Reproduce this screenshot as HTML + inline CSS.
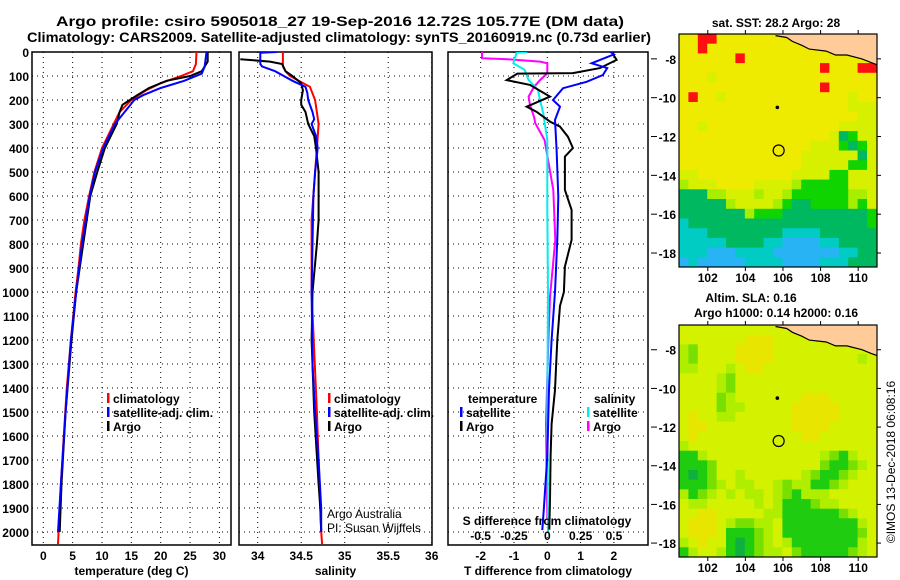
<!DOCTYPE html>
<html><head><meta charset="utf-8"><style>
body{margin:0;background:#fff}
svg{display:block;font-family:"Liberation Sans",sans-serif}
.b{font-weight:bold;font-size:12px}
.r{font-weight:normal;font-size:12px}
.t{font-weight:bold;font-size:14px}
</style></head><body>
<svg id="s" width="900" height="580" viewBox="0 0 900 580" xmlns="http://www.w3.org/2000/svg">
<text class="t" x="340" y="26" text-anchor="middle" textLength="568" lengthAdjust="spacingAndGlyphs">Argo profile: csiro 5905018_27 19-Sep-2016 12.72S 105.77E (DM data)</text>
<text class="t" x="339" y="42" text-anchor="middle" textLength="624" lengthAdjust="spacingAndGlyphs">Climatology: CARS2009. Satellite-adjusted climatology: synTS_20160919.nc (0.73d earlier)</text>
<g id="g"></g>
</svg>
<script>
// ---------- data ----------
const depthTicks=[0,100,200,300,400,500,600,700,800,900,1000,1100,1200,1300,1400,1500,1600,1700,1800,1900,2000];
const tempTicks=[0,5,10,15,20,25,30];
const salTicks=[34,34.5,35,35.5,36];
const salTickLabels=["34","34.5","35","35.5","36"];
const tdTicks=[-2,-1,0,1,2];
const sdTicks=[-0.5,-0.25,0,0.25,0.5];
const sdTickLabels=["-0.5","-0.25","0","0.25","0.5"];
// temperature profiles [depth, value]
const tempClim=[[0,26.1],[50,26],[80,25.5],[100,23.5],[130,20],[160,17.5],[200,15],[250,13],[300,12],[350,11],[400,10],[500,8.7],[600,7.8],[700,7],[800,6.4],[900,6],[1000,5.5],[1200,4.7],[1400,4],[1600,3.5],[1800,3],[2000,2.6],[2050,2.5]];
const tempArgo=[[0,28],[40,28],[80,27],[100,25],[120,21],[150,18],[180,16],[220,13.5],[250,13],[300,12.5],[400,10.5],[500,9.2],[600,8],[800,6.8],[1000,5.6],[1200,4.8],[1500,3.8],[1800,3.1],[2000,2.8]];
const tempSat=[[0,27.8],[60,27.5],[90,27],[120,24],[150,20],[180,17],[200,15.5],[300,12.2],[400,10.2],[500,8.8],[600,7.9],[800,6.6],[1000,5.6],[1200,4.7],[1500,3.8],[1800,3],[2000,2.5]];
// salinity profiles
const salClim=[[0,34.29],[60,34.29],[80,34.32],[100,34.37],[145,34.6],[200,34.66],[300,34.7],[400,34.68],[500,34.66],[700,34.62],[1000,34.62],[1500,34.68],[2000,34.73],[2050,34.74]];
const salArgo=[[30,33.8],[40,34.14],[50,34.28],[80,34.32],[100,34.4],[130,34.5],[160,34.52],[200,34.5],[220,34.5],[250,34.55],[300,34.58],[350,34.65],[400,34.67],[500,34.7],[600,34.7],[700,34.7],[800,34.68],[1000,34.63],[1200,34.62],[1500,34.65],[1800,34.7],[1900,34.72],[2000,34.73]];
const salSat=[[0,34.22],[3,34.03],[50,34.03],[60,34.05],[80,34.2],[100,34.3],[120,34.4],[145,34.55],[170,34.57],[200,34.58],[250,34.63],[280,34.65],[300,34.62],[350,34.67],[400,34.69],[500,34.66],[600,34.64],[1000,34.62],[1300,34.63],[1500,34.66],[1700,34.7],[1900,34.73],[2000,34.73]];
// differences from climatology
const tdSat=[[0,1.9],[10,2],[47,1.33],[67,1.8],[96,1.67],[124,1.18],[151,0.47],[200,0.17],[228,0.38],[283,0.23],[408,0.28],[603,0.33],[783,0.3],[1000,0.23],[1200,0.13],[1408,0.05],[1683,0],[1894,-0.1],[1992,-0.15]];
const tdArgo=[[0,1.93],[33,2.08],[67,1.58],[88,0.77],[90,-0.9],[117,-1.22],[137,-0.52],[186,0.08],[228,-0.62],[249,-0.32],[290,0.08],[311,0.38],[353,0.62],[400,0.77],[436,0.53],[575,0.53],[658,0.73],[783,0.73],[894,0.53],[1000,0.5],[1058,0.38],[1200,0.3],[1408,0.23],[1550,0.13],[1683,0.1],[1865,0.08],[1990,0.06]];
const sdArgo=[[0,-0.49],[26,-0.49],[30,-0.3],[40,-0.055],[47,0],[89,0],[117,-0.055],[146,-0.1],[186,-0.14],[221,-0.13],[270,-0.1],[297,-0.09],[367,-0.02],[575,0.045],[783,0.06],[1020,0.02],[1250,0.005],[1550,-0.01],[1950,0]];
const sdSat=[[0,-0.15],[3,-0.23],[47,-0.255],[74,-0.17],[117,-0.14],[158,-0.07],[200,-0.055],[256,-0.03],[367,0],[644,0],[1000,0.005],[1500,0],[2000,0.005]];
// maps: rows from north (-6.7) to south, 0.5 deg cells, lon 100.5..111
const sstRows=["YYRRYYYYYYYYYYYYYYYYY","YYRYYYYYYYYYYYYYYYYYY","YYYYYYRYYYYYYYYYYYYYY","YYYYYYYYYYYYYYYRYYYRR","YYYyYYYYYYYYYYYYYYYYY","YYYYYYYYYYYYYYYRYYYYY","YRYYyYYYYYYYYYYYYYyYY","YYYYYYYYYYYYYYYYYYyyy","YYYYYYYYYYYYYYYYYYYyy","YYyYYYYYYYYYYYYYYyyyy","YYYYYYYYYYYYYYYYyGgyy","YYYYYYYYYYYYYYyyygGgy","YYYYYYYYYYYYYyyyyyyGy","YYYYYYYYYYYYYyyyyyggy","yyYYYYYYYYYYyyyyggyyy","lyyyYYYYyyyylgggggyyy","GGGllyyylyylgggggglly","GGGGGlyyyylgGGgggglgy","GGGGGGGlgggGGGGGGGGGg","cGGGGGGGGGGGGGGGGGGGg","cccGGGGGGGGccccGGGGGG","cccccGGGGccbbbbccGGGG","cccbbbccccbbbbbbbccGG","bcbbbbbccccbbbbcccGGG"];
const slaRows=["yyyyyyyyyyyyyyyyyyyyy","yyyyyyyYYYyyyyyyyyyyy","lgyyyyYYYYyyyyyyyyyyy","lgyyyyYYYYyyyyyyyyyly","llyyylyYYyyyyyyyyyyyy","yyyylgyyyyyyyyyyyyyyy","yyyylgyyyyyyyyyyyyyyy","yyyyglyyyyyyyYYYyyyyy","yyyygllyyyyyYYYYYyyyy","yYyyllyyyyyyYYYYYyyyy","yYYyyyyyyyyyYYYYyyyyy","yYyyyyyyyyyyyYYyyyyyy","lyyyyyyyyyyyyyyyyyyyy","GGlyyyyyyyyyyyylgGlyy","GGGgyyyyyyyyyyygGGgly","GDGgyylyyyyyylgGGglyy","GGGglyllyylgllGGglyyy","lGglylyllylgGlllyyyyy","yllyyyyylylGGGgllyyyy","yyYYyyyyyllGGGGGGglyy","yYYYylggllyGGGGGGGGly","yYYYyGGGglyGGGGGGGGgy","lyYyyGDGglylGGGGGGGly","GlyylGDGgllygGGGGGgly"];
const sstColors={Y:"#eeea00",y:"#d6f000",l:"#a8ee00",g:"#10d400",G:"#00b860",c:"#00ccc4",b:"#28b4f4",R:"#ff1010"};
const slaColors={Y:"#e8e600",y:"#d4f200",l:"#b0ee00",g:"#78e000",G:"#20cc10",D:"#10b040"};
const coastLon=[105.6,106.2,106.5,107,107.4,108.3,108.8,109.4,110.2,110.7,111];
const coastLat=[-6.8,-6.9,-7.1,-7.3,-7.5,-7.6,-7.8,-7.8,-8,-8.2,-8.3];
const argoLon=105.77, argoLat=-12.72, prevLon=105.7, prevLat=-10.5;
const lonTicks=[102,104,106,108,110];
const latTicks=[-8,-10,-12,-14,-16,-18];
const latTickLabels=["-8","-10","-12","-14","-16","-18"];

// ---------- drawing ----------
const NS="http://www.w3.org/2000/svg";
const G=document.getElementById('g');
function mk(tag,at,parent){const e=document.createElementNS(NS,tag);for(const k in at)e.setAttribute(k,at[k]);(parent||G).appendChild(e);return e;}
function txt(s,x,y,cls,anchor){const e=mk('text',{x:x,y:y,'class':cls||'b','text-anchor':anchor||'middle'});e.textContent=s;return e;}
const TOP=52,BOT=545;
const yD=d=>TOP+d*0.24;
const xT=v=>43.3+v*5.87;
const xS=v=>257.7+(v-34)*87;
const xTD=v=>547.3+v*33.3;
const xSD=v=>547.3+v*133.3;
const panels=[{l:32,r:231,ticks:tempTicks,lab:tempTicks.map(String),f:xT,title:"temperature (deg C)",name:"temperature-panel"},
{l:239,r:432,ticks:salTicks,lab:salTickLabels,f:xS,title:"salinity",name:"salinity-panel"},
{l:448,r:648,ticks:tdTicks,lab:tdTicks.map(String),f:xTD,title:"T difference from climatology",name:"difference-panel"}];
panels.forEach(p=>{
  const g=mk('g',{});
  
  
  depthTicks.forEach(d=>{mk('line',{x1:p.l,x2:p.r,y1:yD(d),y2:yD(d),stroke:'#000','stroke-width':1,'stroke-dasharray':'1,4'},g);});
  p.ticks.forEach((v,i)=>{const x=p.f(v);mk('line',{x1:x,x2:x,y1:TOP,y2:BOT,stroke:'#000','stroke-width':1,'stroke-dasharray':'1,4'},g);
    const t=txt(p.lab[i],x,560);});
  mk('rect',{x:p.l,y:TOP,width:p.r-p.l,height:BOT-TOP,fill:'none',stroke:'#000','stroke-width':1.5},g);
  const tt=txt(p.title,(p.l+p.r)/2,575);
  
  
  p.g=g;
});
depthTicks.forEach(d=>{const t=txt(String(d),29,yD(d)+5,'b','end');
  
  });
function line(data,fx,color,name,clip){
  const pts=data.map(p=>fx(p[1]).toFixed(1)+','+yD(p[0]).toFixed(1)).join(' ');
  const e=mk('polyline',{points:pts,fill:'none',stroke:color,'stroke-width':2,'clip-path':'url(#'+clip+')'});
  
  
}
const defs=mk('defs',{});
panels.forEach((p,i)=>{const c=mk('clipPath',{id:'c'+i},defs);mk('rect',{x:p.l,y:TOP,width:p.r-p.l,height:BOT-TOP},c);});
line(tempClim,xT,'#f00','temp-climatology-line','c0');
line(tempArgo,xT,'#000','temp-argo-line','c0');
line(tempSat,xT,'#00f','temp-satellite-line','c0');
line(salClim,xS,'#f00','sal-climatology-line','c1');
line(salArgo,xS,'#000','sal-argo-line','c1');
line(salSat,xS,'#00f','sal-satellite-line','c1');
line(sdArgo,xSD,'#f0f','sdiff-argo-line','c2');
line(sdSat,xSD,'#0ee','sdiff-satellite-line','c2');
line(tdArgo,xTD,'#000','tdiff-argo-line','c2');
line(tdSat,xTD,'#00f','tdiff-satellite-line','c2');
function leg(x,y,color,label,name){const g=mk('g',{});
  mk('rect',{x:x-1,y:y-10,width:2.5,height:10,fill:color},g);if(label){const t=txt(label,x+5,y,'b','start');g.appendChild(t);}}
leg(108,403,'#f00','climatology','legend-climatology');
leg(108,417,'#00f','satellite-adj. clim.','legend-satellite-adj');
leg(108,431,'#000','Argo','legend-argo');
leg(329,403,'#f00','climatology','legend-sal-climatology');
leg(329,417,'#00f','satellite-adj. clim.','legend-sal-satellite-adj');
leg(329,431,'#000','Argo','legend-sal-argo');
let t=txt('temperature',468,403,'b','start');
leg(461,417,'#00f','satellite','legend-tdiff-satellite');
leg(461,431,'#000','Argo','legend-tdiff-argo');
t=txt('salinity',594,403,'b','start');
leg(588,417,'#0ee','satellite','legend-sdiff-satellite');
leg(588,431,'#f0f','Argo','legend-sdiff-argo');
t=txt('S difference from climatology',547,525);
sdTicks.forEach((v,i)=>{const e=txt(sdTickLabels[i],xSD(v),540);});
t=txt('Argo Australia',327,518,'r','start');
t=txt('PI: Susan Wijffels',327,532,'r','start');

// maps
const ML=679,MR=877,LON0=100.47,LON1=111,LAT0=-6.72,LAT1=-18.72;
const mxf=lon=>ML+(lon-LON0)/(LON1-LON0)*(MR-ML);
function drawMap(top,bot,rows,colors,name,lblY){
  const g=mk('g',{});
  const myf=lat=>top+(LAT0-lat)/(LAT0-LAT1)*(bot-top);
  const cid='m'+name;const c=mk('clipPath',{id:cid},defs);mk('rect',{x:ML,y:top,width:MR-ML,height:bot-top},c);
  const cg=mk('g',{'clip-path':'url(#'+cid+')'},g);
  rows.forEach((row,r)=>{for(let k=0;k<row.length;k++){
    const lon=LON0+k*0.5,lat=LAT0-r*0.5;const x0=mxf(lon),y0=myf(lat);
    const cell=mk('rect',{x:x0.toFixed(1),y:y0.toFixed(1),width:(mxf(lon+0.5)-x0+0.5).toFixed(1),height:(myf(lat-0.5)-y0+0.5).toFixed(1),fill:colors[row[k]]},cg);
    
    
  }});
  const cp=coastLon.map((l,i)=>mxf(l).toFixed(1)+','+myf(coastLat[i]).toFixed(1));
  mk('polygon',{points:cp.join(' ')+' '+MR+','+top+' '+mxf(coastLon[0]).toFixed(1)+','+top,fill:'#ffcc99',stroke:'none'},cg);
  const cl=mk('polyline',{points:cp.join(' '),fill:'none',stroke:'#000','stroke-width':1.2},cg);
  
  const pm=mk('circle',{cx:mxf(prevLon),cy:myf(prevLat),r:1.8,fill:'#000'},g);
  
  const am=mk('circle',{cx:mxf(argoLon),cy:myf(argoLat),r:5.5,fill:'none',stroke:'#000','stroke-width':1.2},g);
  
  mk('rect',{x:ML,y:top,width:MR-ML,height:bot-top,fill:'none',stroke:'#000','stroke-width':1.2},g);
  lonTicks.forEach(l=>{const x=mxf(l);mk('line',{x1:x,x2:x,y1:bot,y2:bot+4,stroke:'#000'},g);mk('line',{x1:x,x2:x,y1:top,y2:top-4,stroke:'#000'},g);
    const e=txt(String(l),x,lblY);g.appendChild(e);});
  latTicks.forEach((l,i)=>{const y=myf(l);mk('line',{x1:MR,x2:MR+4,y1:y,y2:y,stroke:'#000'},g);mk('line',{x1:651,x2:657,y1:y,y2:y,stroke:'#000'},g);
    const e=txt(latTickLabels[i],676,y+5,'b','end');g.appendChild(e);});
}
drawMap(34,267,sstRows,sstColors,'sst-map',282);
drawMap(325,557,slaRows,slaColors,'sla-map',572);
t=txt('sat. SST: 28.2 Argo: 28',776,27);
t=txt('Altim. SLA: 0.16',751,302);
t=txt('Argo h1000: 0.14 h2000: 0.16',776,317);
t=txt('©IMOS 13-Dec-2018 06:08:16',0,0,'r','middle');t.setAttribute('font-size','13');t.setAttribute('transform','translate(895,462) rotate(-90)');

</script>
</body></html>
